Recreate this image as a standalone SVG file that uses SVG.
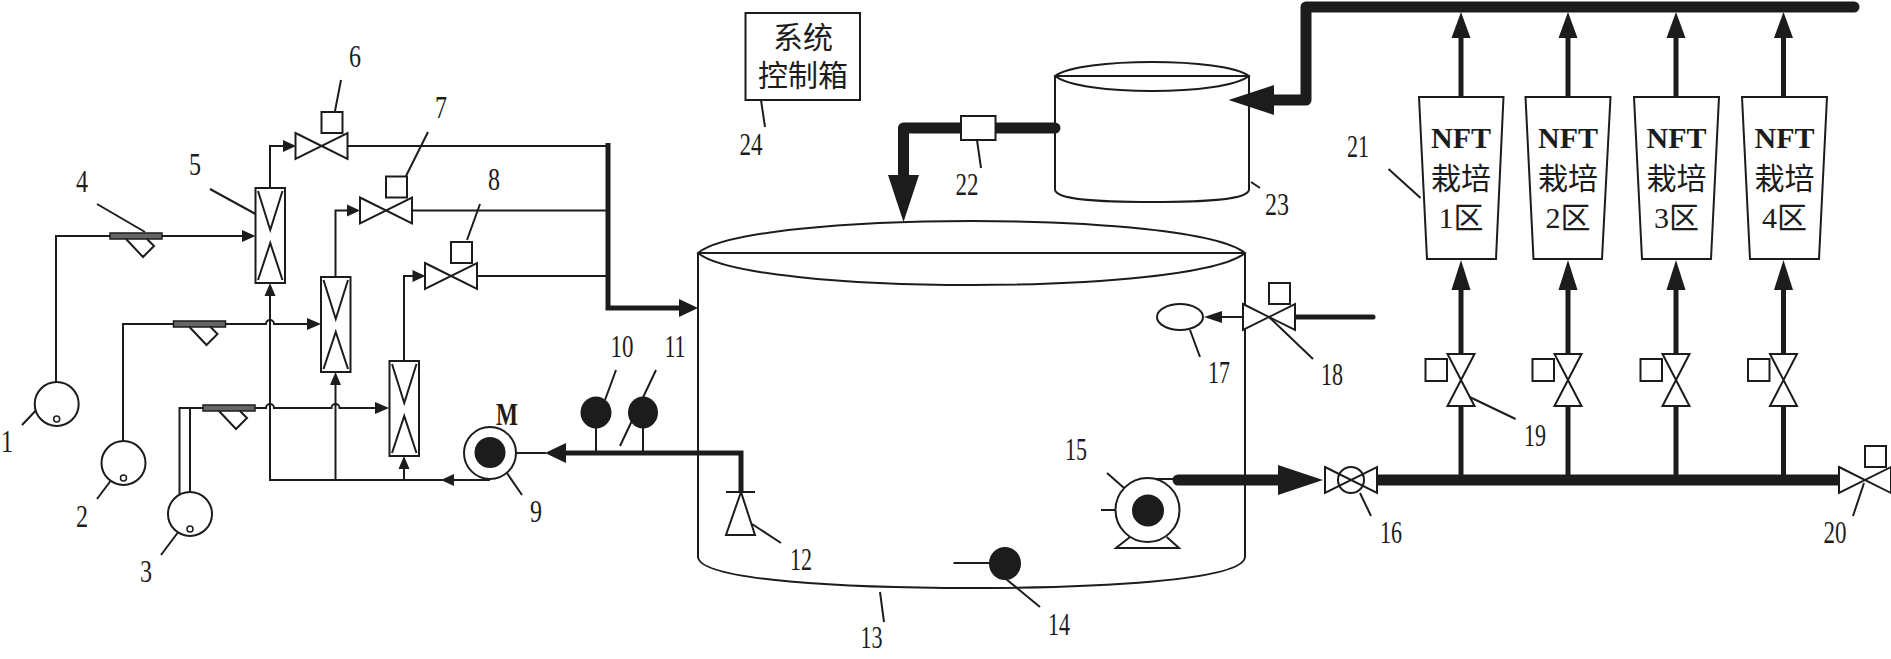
<svg xmlns="http://www.w3.org/2000/svg" width="1891" height="659" viewBox="0 0 1891 659">
<style>
.t{fill:none;stroke:#1c1c1c;stroke-width:2}
.w{fill:#fff;stroke:#1c1c1c;stroke-width:2}
.k{fill:#1c1c1c;stroke:none}
.p5{fill:none;stroke:#1c1c1c;stroke-width:5}
.p10{fill:none;stroke:#1c1c1c;stroke-width:11;stroke-linecap:round;stroke-linejoin:round}
.n{font-family:"Liberation Serif","Times New Roman",serif;font-size:31px;fill:#1c1c1c;text-anchor:middle}
.c{font-family:"Liberation Serif","Noto Sans CJK SC",serif;font-size:30px;fill:#1c1c1c;text-anchor:middle}
.b{font-weight:bold}
</style>
<defs>
<g id="hv"><path class="w" d="M-26,-13 L26,13 V-13 L-26,13 Z"/><rect class="w" x="0" y="-34" width="21" height="21"/></g>
<g id="vv"><path class="w" d="M-13.5,-26 H13.5 L-13.5,26 H13.5 Z"/><rect class="w" x="-35.5" y="-21" width="21.5" height="22"/></g>
<g id="fm"><rect class="w" x="0" y="0" width="29.5" height="95"/><path class="t" d="M2.5,3 L14.75,42 L27,3 M2.5,92 L14.75,55 L27,92"/></g>
<g id="yf"><rect x="0" y="-3" width="52" height="6" fill="#666" stroke="#1c1c1c" stroke-width="1.5"/><path class="t" d="M16,3 L33,21 L44,10 L37,3"/></g>
<g id="tk"><circle class="w" r="22"/><circle fill="none" stroke="#1c1c1c" stroke-width="1.5" cx="0" cy="15" r="3"/></g>
</defs>
<rect width="1891" height="659" fill="#fff"/>

<g id="connectors">
  <path class="t" d="M56,382 V236 H243"/>
  <polygon class="k" points="255.5,236 242,230 242,242"/>
  <path class="t" d="M123,441 V324 H266 A4,4 0 0 1 274,324 H309"/>
  <polygon class="k" points="321,324 307,318 307,330"/>
  <path class="t" d="M179.5,494.7 V408 H266 A4,4 0 0 1 274,408 H331.5 A4,4 0 0 1 339.5,408 H377"/>
  <path class="t" d="M190,492 V408"/>
  <polygon class="k" points="389,408 375,402 375,414"/>
  <path class="t" d="M490,480 H270 V295"/>
  <polygon class="k" points="441,480 454,474 454,486"/>
  <polygon class="k" points="270,283 264.5,296 275.5,296"/>
  <path class="t" d="M335.5,480 V384"/>
  <polygon class="k" points="335.5,372 330,385 341,385"/>
  <path class="t" d="M404,480 V467"/>
  <polygon class="k" points="404,456 398.5,469 409.5,469"/>
  <path class="t" d="M270,188 V146 H284"/>
  <polygon class="k" points="296,146 283,140 283,152"/>
  <path class="t" d="M335.5,277 V210.5 H348"/>
  <polygon class="k" points="360,210.5 347,204.5 347,216.5"/>
  <path class="t" d="M404,361 V276 H413.5"/>
  <polygon class="k" points="425.5,276 412.5,270 412.5,282"/>
  <path class="t" d="M347.5,146 H608 M412,210.5 H608 M477,276 H608"/>
  <path class="p5" d="M608,143 V308 H682"/>
  <polygon class="k" points="698,308 679,299 679,317"/>
  <path class="t" d="M505,453 H546"/>
  <polygon class="k" points="545,453 566,443 566,463"/>
  <path class="p5" d="M564,453 H741 V492"/>
  <path class="t" stroke-width="2.5" d="M596,428 V453 M643,428 V453"/>
  <path class="p10" d="M1055,128 H903.5 V180" stroke-linecap="butt"/>
  <polygon class="k" points="903.5,222 888,175 919,175"/>
  <path class="p10" d="M1272,100 H1306 V7 H1854"/>
  <polygon class="k" points="1228.5,100 1274,85 1274,115"/>
  <path class="p5" d="M1461,97 V36 M1568,97 V36 M1676,97 V36 M1783.5,97 V36"/>
  <polygon class="k" points="1461,12 1451.5,38 1470.5,38"/>
  <polygon class="k" points="1568,12 1558.5,38 1577.5,38"/>
  <polygon class="k" points="1676,12 1666.5,38 1685.5,38"/>
  <polygon class="k" points="1783.5,12 1774,38 1793,38"/>
  <polygon class="k" points="1461,260 1451.5,290 1470.5,290"/>
  <polygon class="k" points="1568,260 1558.5,290 1577.5,290"/>
  <polygon class="k" points="1676,260 1666.5,290 1685.5,290"/>
  <polygon class="k" points="1783.5,260 1774,290 1793,290"/>
  <path class="p5" d="M1461,288 V354 M1568,288 V354 M1676,288 V354 M1783.5,288 V354"/>
  <path class="p5" d="M1461,407 V480 M1568,407 V480 M1676,407 V480 M1783.5,407 V480"/>
  <path class="p10" d="M1373,480 H1841"/>
  <path class="t" d="M1148,479 H1178"/>
  <path class="p10" d="M1178,480 H1282"/>
  <polygon class="k" points="1323,480 1278,465 1278,495"/>
  <path class="p5" d="M1294,317 H1373" stroke-linecap="round"/>
  <path class="t" d="M1243,317 H1220"/>
  <polygon class="k" points="1204,317 1222,311 1222,323"/>
  <path class="t" d="M953.5,563 H990"/>
  <path class="t" d="M1101,510 H1133"/>
  <path class="t" stroke-width="1.6" d="M43,403 L22,425 M124,463 L97,499 M177.5,533 L161,555 M97,204 L145,232 M210,189 L261,217 M341,80 L335,111 M428,132 L406,176 M480,204 L467,240 M500,463 L522,495 M616,370 L605,400 M656,370 L620,446 M752,524 L781,543 M880,592 L884,622 M1006,579 L1040,607 M1107,473 L1140,502 M1360,493 L1371,516 M1190,330 L1200,357 M1269,317 L1313,359 M1469.6,397 L1515.6,419 M1864,483 L1853,516 M1388.5,169 L1420.6,198 M977,140 L981,168 M1251,182 L1260,188 M761,100 L765,127"/>
</g>

<g id="n1"><use href="#tk" x="56.7" y="404"/><text class="n" x="7" y="452" textLength="12" lengthAdjust="spacingAndGlyphs">1</text></g>
<g id="n2"><use href="#tk" x="123.5" y="463"/><text class="n" x="82" y="527" textLength="12" lengthAdjust="spacingAndGlyphs">2</text></g>
<g id="n3"><use href="#tk" x="190" y="514"/><text class="n" x="146" y="582" textLength="12" lengthAdjust="spacingAndGlyphs">3</text></g>
<g id="n4"><use href="#yf" x="110" y="236"/><use href="#yf" x="173.5" y="324"/><use href="#yf" x="203" y="408"/><text class="n" x="82" y="192" textLength="12" lengthAdjust="spacingAndGlyphs">4</text></g>
<g id="n5"><use href="#fm" x="255.5" y="188"/><use href="#fm" x="321" y="277"/><use href="#fm" x="389.5" y="361"/><text class="n" x="195" y="175" textLength="12" lengthAdjust="spacingAndGlyphs">5</text></g>
<g id="n6"><use href="#hv" x="321.5" y="146"/><text class="n" x="355" y="67" textLength="12" lengthAdjust="spacingAndGlyphs">6</text></g>
<g id="n7"><use href="#hv" x="386" y="210.5"/><text class="n" x="441" y="118" textLength="12" lengthAdjust="spacingAndGlyphs">7</text></g>
<g id="n8"><use href="#hv" x="451" y="276"/><text class="n" x="494" y="190" textLength="12" lengthAdjust="spacingAndGlyphs">8</text></g>
<g id="n9"><circle class="w" cx="490" cy="453" r="26"/><circle class="k" cx="490" cy="452.5" r="15.5"/><text class="n b" x="507" y="425" textLength="22" lengthAdjust="spacingAndGlyphs">M</text><text class="n" x="536" y="522" textLength="12" lengthAdjust="spacingAndGlyphs">9</text></g>
<g id="n10"><ellipse class="k" cx="596" cy="412.5" rx="15.5" ry="16"/><text class="n" x="622" y="357" textLength="23" lengthAdjust="spacingAndGlyphs">10</text></g>
<g id="n11"><ellipse class="k" cx="643" cy="412.5" rx="15" ry="16"/><text class="n" x="675" y="357" textLength="21" lengthAdjust="spacingAndGlyphs">11</text></g>
<g id="n12"><path class="t" d="M726,492 H755"/><polygon class="w" points="741,492 726,535 755,535"/><text class="n" x="801" y="570" textLength="22" lengthAdjust="spacingAndGlyphs">12</text></g>
<g id="n13">
  <path class="t" d="M698,253 V557 C700,581 850,588 971.5,588 C1093,588 1243,581 1245,557 V253"/>
  <path class="t" d="M698,253 C750,210.3 1193,210.3 1245,253 C1193,295.7 750,295.7 698,253 Z M698,253 H1245"/>
  <text class="n" x="871.5" y="648" textLength="22" lengthAdjust="spacingAndGlyphs">13</text>
</g>
<g id="n14"><ellipse class="k" cx="1005" cy="563.5" rx="16" ry="16.5"/><text class="n" x="1059" y="635" textLength="22" lengthAdjust="spacingAndGlyphs">14</text></g>
<g id="n15"><circle class="w" cx="1147.5" cy="510" r="32"/><circle class="k" cx="1148" cy="510.5" r="16"/><path class="t" d="M1130,537 L1116,548 H1179 L1166.7,537"/><text class="n" x="1076" y="460" textLength="22" lengthAdjust="spacingAndGlyphs">15</text></g>
<g id="n16"><path class="w" d="M1325,467 L1377,493 V467 L1325,493 Z"/><circle class="t" cx="1351" cy="480" r="13"/><text class="n" x="1391" y="543" textLength="22" lengthAdjust="spacingAndGlyphs">16</text></g>
<g id="n17"><ellipse class="w" cx="1180" cy="317" rx="23" ry="13"/><text class="n" x="1219" y="383" textLength="22" lengthAdjust="spacingAndGlyphs">17</text></g>
<g id="n18"><use href="#hv" x="1269" y="317"/><text class="n" x="1332" y="385" textLength="22" lengthAdjust="spacingAndGlyphs">18</text></g>
<g id="n19"><use href="#vv" x="1461" y="380"/><use href="#vv" x="1568" y="380"/><use href="#vv" x="1676" y="380"/><use href="#vv" x="1783.5" y="380"/><text class="n" x="1535" y="446" textLength="22" lengthAdjust="spacingAndGlyphs">19</text></g>
<g id="n20"><use href="#hv" x="1865" y="480"/><text class="n" x="1835" y="543" textLength="23" lengthAdjust="spacingAndGlyphs">20</text></g>
<g id="n21">
  <path class="w" d="M1419,97 H1503.5 L1496,259 H1427 Z"/>
  <path class="w" d="M1525.5,97 H1610.5 L1602,259 H1533.5 Z"/>
  <path class="w" d="M1634,97 H1719 L1711,259 H1642 Z"/>
  <path class="w" d="M1742,97 H1827 L1819,259 H1750 Z"/>
  <text class="c b" x="1461" y="148">NFT</text><text class="c" x="1461" y="189">栽培</text><text class="c" x="1461" y="228">1区</text>
  <text class="c b" x="1568" y="148">NFT</text><text class="c" x="1568" y="189">栽培</text><text class="c" x="1568" y="228">2区</text>
  <text class="c b" x="1676.5" y="148">NFT</text><text class="c" x="1676.5" y="189">栽培</text><text class="c" x="1676.5" y="228">3区</text>
  <text class="c b" x="1784.5" y="148">NFT</text><text class="c" x="1784.5" y="189">栽培</text><text class="c" x="1784.5" y="228">4区</text>
  <text class="n" x="1358" y="157" textLength="22" lengthAdjust="spacingAndGlyphs">21</text>
</g>
<g id="n22"><rect class="w" x="961" y="116" width="34.5" height="24"/><text class="n" x="967" y="195" textLength="23" lengthAdjust="spacingAndGlyphs">22</text></g>
<g id="n23">
  <path class="t" d="M1055,76 V190 C1057,200 1100,202 1152,202 C1204,202 1247,200 1249,190 V76"/>
  <path class="t" d="M1055,76 C1080,57.3 1224,57.3 1249,76 C1224,96 1080,96 1055,76 Z M1055,76 H1249"/>
  <text class="n" x="1277" y="215" textLength="24" lengthAdjust="spacingAndGlyphs">23</text>
</g>
<g id="n24"><rect class="w" x="745.5" y="13" width="114.5" height="87"/><text class="c" x="803" y="48">系统</text><text class="c" x="803" y="86">控制箱</text><text class="n" x="751" y="155" textLength="23" lengthAdjust="spacingAndGlyphs">24</text></g>
</svg>
